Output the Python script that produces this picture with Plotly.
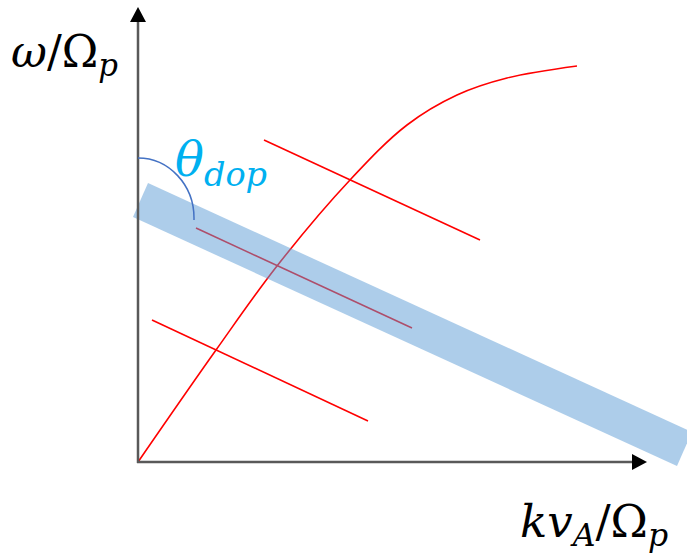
import plotly.graph_objects as go

# Coordinates in diagram units: origin at the axes' corner, x to the right, y up.
# Dispersion curve omega(k)
curve_k = [0, 78, 139, 212, 269, 319, 369, 439]
curve_w = [0, 112, 196, 282, 337, 367, 384, 396]

# Three parallel resonance lines (start/end points)
res_lines = {
    "upper":  {"k": [126, 342], "w": [322, 222]},
    "middle": {"k": [58, 274],  "w": [234, 134]},
    "lower":  {"k": [14, 230],  "w": [142, 41]},
}

# Doppler band (polygon corners)
band_k = [10, -5, 539, 554, 10]
band_w = [279, 245, -4, 30, 279]

# Axis extents
x_axis_end = 494
y_axis_end = 440

RED = "#FF0000"
AXIS = "#595959"

fig = go.Figure()

fig.add_trace(go.Scatter(
    x=curve_k, y=curve_w, mode="lines",
    line=dict(color=RED, width=1.6, shape="spline", smoothing=1.0),
    hoverinfo="skip", showlegend=False))

for seg in res_lines.values():
    fig.add_trace(go.Scatter(
        x=seg["k"], y=seg["w"], mode="lines",
        line=dict(color=RED, width=1.6),
        hoverinfo="skip", showlegend=False))

fig.add_trace(go.Scatter(
    x=band_k, y=band_w, mode="lines", fill="toself",
    fillcolor="rgba(91,155,213,0.5)", line=dict(width=0),
    hoverinfo="skip", showlegend=False))

shapes = [
    # axes
    dict(type="line", x0=0, y0=-1, x1=0, y1=y_axis_end,
         line=dict(color=AXIS, width=2.5), layer="above"),
    dict(type="line", x0=-1, y0=0, x1=x_axis_end, y1=0,
         line=dict(color=AXIS, width=2.5), layer="above"),
    # arrowheads
    dict(type="path", path=f"M -8 {y_axis_end} L 8 {y_axis_end} L 0 {y_axis_end + 15} Z",
         fillcolor="black", line=dict(width=0), layer="above"),
    dict(type="path", path=f"M {x_axis_end} -8 L {x_axis_end} 8 L {x_axis_end + 15} 0 Z",
         fillcolor="black", line=dict(width=0), layer="above"),
    # angle arc (quarter ellipse)
    dict(type="path",
         path="M 0 304 C 31 304 56 277 56 244 L 56 242",
         line=dict(color="#4472C4", width=1.5), layer="above"),
]

MATH_FONT = "DejaVu Serif"

annotations = [
    dict(x=-129, y=408, xref="x", yref="y", xanchor="left", yanchor="middle",
         text="<i>ω</i>/Ω<sub><i>p</i></sub>", showarrow=False,
         font=dict(family=MATH_FONT, size=44, color="black")),
    dict(x=380, y=-62, xref="x", yref="y", xanchor="left", yanchor="middle",
         text="<i>kv</i><sub><i>A</i></sub>/Ω<sub><i>p</i></sub>", showarrow=False,
         font=dict(family=MATH_FONT, size=45, color="black")),
    dict(x=35, y=300, xref="x", yref="y", xanchor="left", yanchor="middle",
         text="<i>θ</i><sub><i>dop</i></sub>", showarrow=False,
         font=dict(family=MATH_FONT, size=48, color="#00B0F0")),
]

fig.update_layout(
    width=687, height=560,
    margin=dict(l=0, r=0, t=0, b=0),
    paper_bgcolor="white", plot_bgcolor="white",
    xaxis=dict(range=[-138, 549], visible=False, fixedrange=True),
    yaxis=dict(range=[-98, 462], visible=False, fixedrange=True),
    shapes=shapes, annotations=annotations,
    showlegend=False,
)

fig.write_html("out.html")
